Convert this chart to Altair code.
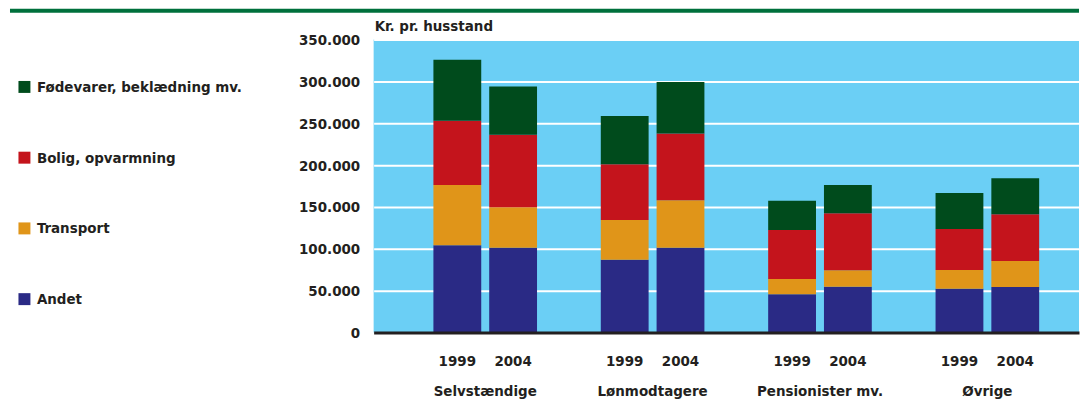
import altair as alt
import pandas as pd

groups = ["Selvstændige", "Lønmodtagere", "Pensionister mv.", "Øvrige"]
years = ["1999", "2004"]
categories = ["Fødevarer, beklædning mv.", "Bolig, opvarmning", "Transport", "Andet"]
colors = ["#004B1C", "#C4141C", "#E09519", "#2A2A85"]
chart_title = "Kr. pr. husstand"

# values per bar (group x year), in kr. pr. husstand
andet = [104400, 101200, 86900, 101200, 45700, 54800, 52400, 54400]
transport = [71800, 48400, 47600, 56800, 18200, 19500, 22200, 31000]
bolig = [76700, 86600, 66700, 79700, 58700, 68200, 49200, 55900]
fodevarer = [72900, 57800, 57600, 61600, 35000, 33700, 42900, 42900]

series = {
    "Andet": andet,
    "Transport": transport,
    "Bolig, opvarmning": bolig,
    "Fødevarer, beklædning mv.": fodevarer,
}
stack_order = {"Andet": 0, "Transport": 1, "Bolig, opvarmning": 2, "Fødevarer, beklædning mv.": 3}

rows = []
for cat, vals in series.items():
    i = 0
    for g in groups:
        for y in years:
            rows.append({"gruppe": g, "aar": y, "kategori": cat, "vaerdi": vals[i], "ord": stack_order[cat]})
            i += 1
df = pd.DataFrame(rows)
labels_df = pd.DataFrame([{"gruppe": g, "aar": y} for g in groups for y in years])

FONT = "Liberation Sans Narrow, DejaVu Sans Condensed, sans-serif"
TXT = "#231F20"
W, H = 708, 294

xscale = alt.Scale(domain=groups, paddingInner=0, paddingOuter=0.1071, align=0.778)
xoff = alt.Scale(domain=years, paddingInner=0.1429, paddingOuter=0.5714)

bars = alt.Chart(df).mark_bar(strokeWidth=0).encode(
    x=alt.X("gruppe:N", scale=xscale, sort=groups,
            axis=alt.Axis(title=None, labelAngle=0, ticks=False, domain=True, domainColor=TXT,
                          domainWidth=3, labelPadding=51, labelFontSize=15, labelFont=FONT,
                          labelFontWeight="bold", labelColor=TXT, zindex=1)),
    xOffset=alt.XOffset("aar:N", scale=xoff),
    y=alt.Y("vaerdi:Q", stack="zero",
            scale=alt.Scale(domain=[0, 350000], nice=False),
            axis=alt.Axis(title=None, values=list(range(0, 350001, 50000)), domain=False, ticks=False,
                          labelPadding=14, labelFontSize=15, labelFont=FONT, labelFontWeight="bold",
                          labelColor=TXT, gridColor="white", gridWidth=2, gridOpacity=1,
                          labelExpr="replace(format(datum.value, ',d'), ',', '.')")),
    color=alt.Color("kategori:N", scale=alt.Scale(domain=categories, range=colors),
                    legend=alt.Legend(title=None, orient="none", legendX=-358, legendY=40,
                                      symbolType="square", symbolSize=144, symbolStrokeWidth=0,
                                      rowPadding=55, labelFontSize=15, labelFont=FONT,
                                      labelFontWeight="bold", labelColor=TXT, labelLimit=400,
                                      labelOffset=5, padding=0)),
    order=alt.Order("ord:Q", sort="ascending"),
)

year_text = alt.Chart(labels_df).mark_text(
    font=FONT, fontSize=15, fontWeight="bold", color=TXT, baseline="middle"
).encode(
    x=alt.X("gruppe:N", scale=xscale, sort=groups),
    xOffset=alt.XOffset("aar:N", scale=xoff),
    y=alt.value(H + 29),
    text="aar:N",
)

title_text = alt.Chart(pd.DataFrame({"t": [chart_title]})).mark_text(
    font=FONT, fontSize=15, fontWeight="bold", color=TXT, align="left", baseline="middle"
).encode(x=alt.value(1), y=alt.value(-14), text="t:N")

top_line = alt.Chart(pd.DataFrame({"a": [0]})).mark_rule(color="#00703C", strokeWidth=4).encode(
    x=alt.value(-365), x2=alt.value(W), y=alt.value(-29)
)

chart = alt.layer(bars, year_text, title_text, top_line).properties(
    width=W, height=H,
    padding=0,
).configure_view(fill="#6BCFF5", stroke=None)

chart.save("out.html", embed_options={"renderer": "svg", "actions": False})
